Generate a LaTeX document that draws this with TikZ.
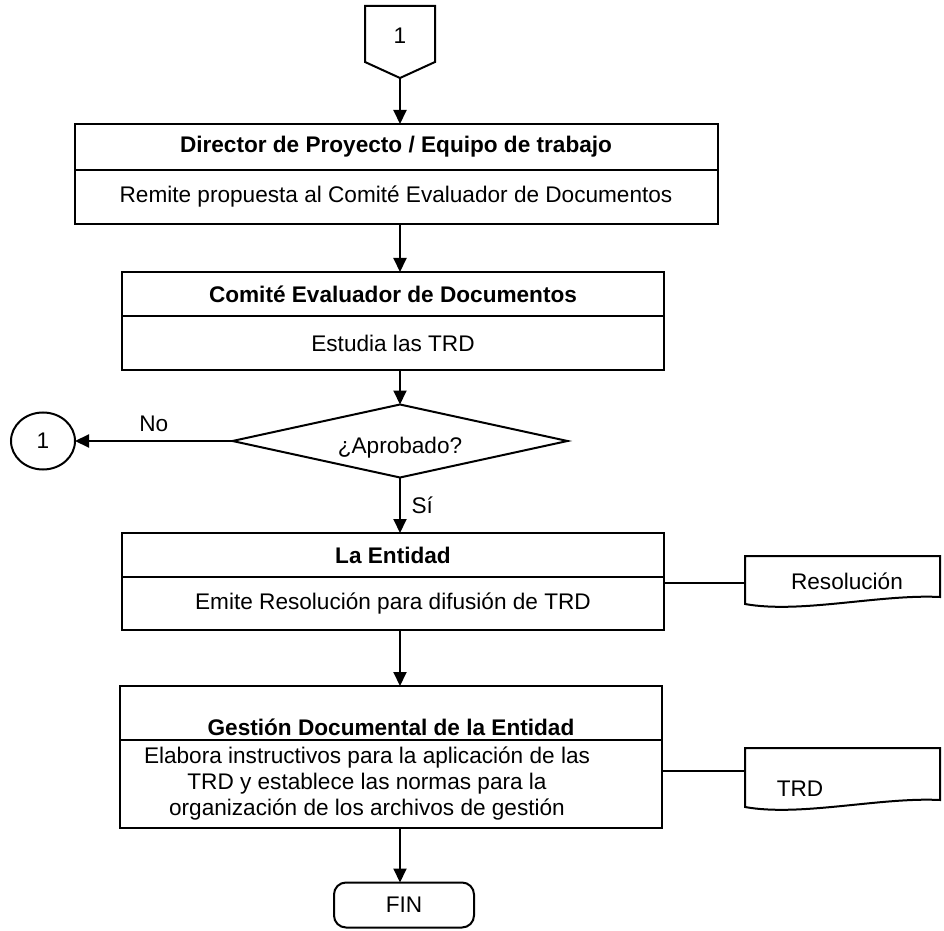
\documentclass[tikz,border=0pt]{standalone}
\usepackage{fontspec}
\setmainfont{Liberation Sans}
\usepackage{tikz}
\usetikzlibrary{arrows.meta,positioning,shapes.geometric}

\newcommand{\tamano}{\fontsize{11.3pt}{13pt}\selectfont}

\tikzset{
  caja/.style={draw, rectangle, line width=1pt, outer sep=0pt, inner sep=0pt,
    align=center, font=\tamano},
  titulo/.style={caja, font=\tamano\bfseries},
  flecha/.style={line width=1pt, -{Triangle[length=7pt,width=6.5pt]}},
  linea/.style={line width=1pt},
}

\begin{document}
\begin{tikzpicture}[x=0.5pt, y=-0.5pt]
    \useasboundingbox (0,0) rectangle (944,931);
    \coordinate (eje) at (400,0);

    % conector de pagina
    \node[font=\tamano] (con) at (400,36) {1};
    \draw[linea] (365,6) -- (435,6) -- (435,62) -- (400,78) -- (365,62) -- cycle;
    \coordinate (conpunta) at (400,78);

    \node[titulo, minimum width=321.5pt, minimum height=23pt] (dir) at (396,147)
      {Director de Proyecto / Equipo de trabajo};
    \node[caja, minimum width=321.5pt, minimum height=27pt, below=0pt of dir] (dirb)
      {Remite propuesta al Comité Evaluador de Documentos};

    \node[titulo, minimum width=271pt, minimum height=22pt] (com) at (393,294)
      {Comité Evaluador de Documentos};
    \node[caja, minimum width=271pt, minimum height=27pt, below=0pt of com] (comb)
      {Estudia las TRD};

    \node[draw, diamond, aspect=4.6, line width=1pt, inner sep=0pt, outer sep=0pt,
      minimum width=167.5pt, minimum height=36.5pt, text height=12.5pt,
      text depth=0pt, font=\tamano] (dec) at (400,441) {¿Aprobado?};
    \node[draw, ellipse, line width=1pt, inner sep=0pt, outer sep=0pt,
      minimum width=32pt, minimum height=28.5pt, font=\tamano] (uno) at (43,441) {1};

    \node[titulo, minimum width=271pt, minimum height=22pt] (ent) at (393,555)
      {La Entidad};
    \node[caja, minimum width=271pt, minimum height=26.5pt, below=0pt of ent] (entb)
      {Emite Resolución para difusión de TRD};

    \node[titulo, minimum width=271pt, inner ysep=0pt, text height=24.5pt,
      text depth=2.5pt] (ges) at (391,713)
      {Gestión Documental de la Entidad};
    \node[caja, minimum width=271pt, minimum height=44pt, below=0pt of ges] (gesb)
      {\begin{tabular}{@{}c@{\hspace{24pt}}}
       Elabora instructivos para la aplicación de las\\
       TRD y establece las normas para la\\
       organización de los archivos de gestión
       \end{tabular}};

    \node[caja, rounded corners=6pt, minimum width=70pt, minimum height=22.5pt] (fin)
      at (404,905) {FIN};

    % documentos
    \node[font=\tamano] (res) at (847,581) {Resolución};
    \draw[linea] (745,556) -- (940,556) -- (940,597)
      .. controls (880,594) and (800,614) .. (745,604) -- cycle;
    \coordinate (resizq) at (745,583);
    \node[font=\tamano] (trd) at (800,789) {TRD};
    \draw[linea] (745,748) -- (940,748) -- (940,800)
      .. controls (880,797) and (800,817) .. (745,807) -- cycle;
    \coordinate (trdizq) at (745,771);

    % conexiones
    \draw[flecha] (conpunta) -- (dir.north -| eje);
    \draw[flecha] (dirb.south -| eje) -- (com.north -| eje);
    \draw[flecha] (comb.south -| eje) -- (dec.north);
    \draw[flecha] (dec.west) -- node[above=1pt, font=\tamano]{No} (uno.east);
    \draw[flecha] (dec.south) -- node[right=2pt, font=\tamano]{Sí} (ent.north -| eje);
    \draw[flecha] (entb.south -| eje) -- (ges.north -| eje);
    \draw[flecha] (gesb.south -| eje) -- (fin.north -| eje);
    \draw[linea] (entb.east |- resizq) -- (resizq);
    \draw[linea] (gesb.east |- trdizq) -- (trdizq);
\end{tikzpicture}
\end{document}
